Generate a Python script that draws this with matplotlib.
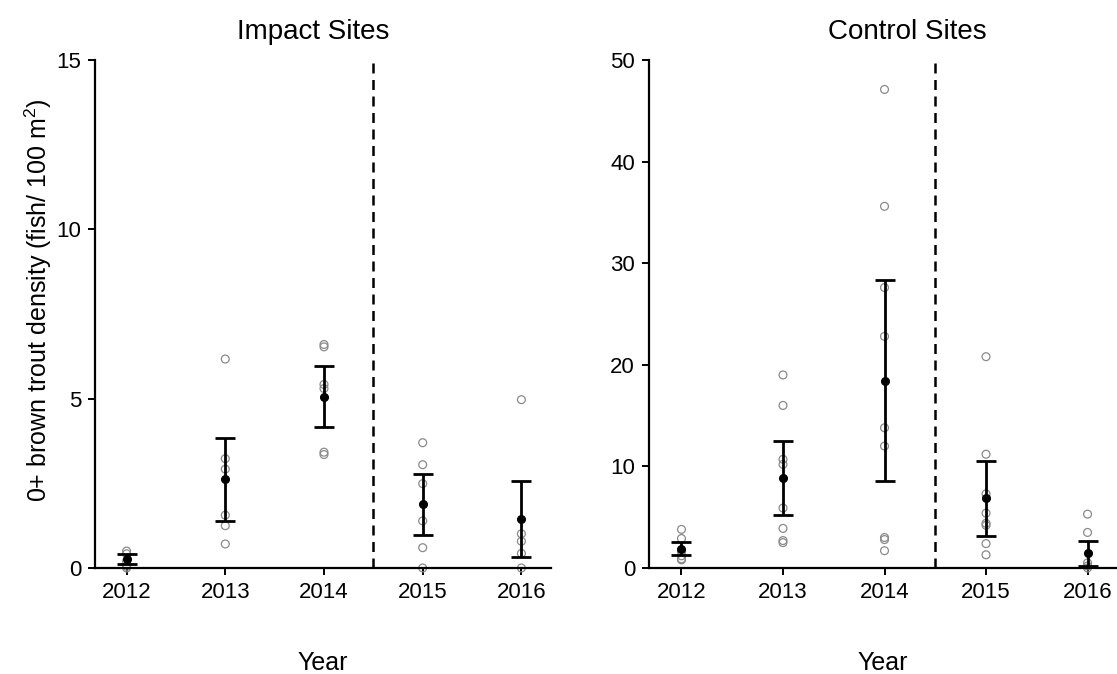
import matplotlib
matplotlib.use("Agg")
import matplotlib.pyplot as plt

plt.rcParams['font.family'] = ['Liberation Sans', 'DejaVu Sans']
plt.rcParams['mathtext.fontset'] = 'custom'
plt.rcParams['mathtext.rm'] = 'Liberation Sans'
plt.rcParams['mathtext.it'] = 'Liberation Sans'

years = [2012, 2013, 2014, 2015, 2016]

# Impact sites: raw site densities per year
impact_2012 = [0.5, 0.42, 0.2, 0.05, 0.0]
impact_2013 = [6.17, 3.23, 2.92, 1.56, 1.25, 0.71]
impact_2014 = [6.6, 6.53, 5.42, 5.3, 3.42, 3.35]
impact_2015 = [3.70, 3.05, 2.49, 1.39, 0.60, 0.0]
impact_2016 = [4.97, 1.01, 0.79, 0.43, 0.0]
impact_mean = [0.26, 2.64, 5.06, 1.88, 1.46]
impact_low = [0.11, 1.40, 4.17, 0.96, 0.32]
impact_high = [0.41, 3.85, 5.97, 2.77, 2.57]

# Control sites: raw site densities per year
control_2012 = [3.8, 2.9, 1.6, 1.2, 0.9, 0.8]
control_2013 = [19.0, 16.0, 10.7, 10.2, 5.9, 3.9, 2.7, 2.5]
control_2014 = [47.1, 35.6, 27.6, 22.8, 13.8, 12.0, 3.0, 2.8, 1.7]
control_2015 = [20.8, 11.2, 7.3, 5.4, 4.4, 4.2, 2.4, 1.3]
control_2016 = [5.3, 3.5, 0.5, 0.2, 0.0]
control_mean = [1.87, 8.89, 18.4, 6.89, 1.51]
control_low = [1.31, 5.22, 8.53, 3.18, 0.23]
control_high = [2.53, 12.5, 28.35, 10.56, 2.69]

impact_points = [impact_2012, impact_2013, impact_2014, impact_2015, impact_2016]
control_points = [control_2012, control_2013, control_2014, control_2015, control_2016]

fig = plt.figure(figsize=(11.17, 6.74), dpi=100)
W, H = 1117, 674
ax1 = fig.add_axes([95 / W, 1 - 568 / H, 456 / W, 508 / H])
ax2 = fig.add_axes([649 / W, 1 - 568 / H, 469 / W, 508 / H])


def draw(ax, pts, mean, low, high, ymax, yticks):
    for yr, vals in zip(years, pts):
        ax.scatter([yr] * len(vals), vals, s=32, facecolors='none',
                   edgecolors='#8a8a8a', linewidths=0.9, clip_on=False, zorder=2)
    yerr = [[m - l for m, l in zip(mean, low)], [h - m for m, h in zip(mean, high)]]
    ax.errorbar(years, mean, yerr=yerr, fmt='o', color='black', markersize=5.5,
                elinewidth=2, capsize=7, capthick=2, zorder=3, clip_on=False)
    ax.axvline(2014.5, color='black', linestyle=(0, (4, 2.6)), linewidth=1.8, zorder=1)
    ax.set_xlim(2011.68, 2016.30)
    ax.set_ylim(0, ymax)
    ax.set_xticks(years)
    ax.set_xticklabels([str(y) for y in years])
    ax.set_yticks(yticks)
    for s in ['top', 'right']:
        ax.spines[s].set_visible(False)
    for s in ['left', 'bottom']:
        ax.spines[s].set_linewidth(1.6)
        ax.spines[s].set_color('black')
    ax.tick_params(axis='both', direction='out', length=5, width=1.4,
                   labelsize=16, colors='black', pad=5)


draw(ax1, impact_points, impact_mean, impact_low, impact_high, 15, [0, 5, 10, 15])
draw(ax2, control_points, control_mean, control_low, control_high, 50, [0, 10, 20, 30, 40, 50])

fig.text(313 / W, 1 - 32 / H, 'Impact Sites', ha='center', va='center', fontsize=20)
fig.text(907 / W, 1 - 32 / H, 'Control Sites', ha='center', va='center', fontsize=20)
fig.text(323 / W, 1 - 663 / H, 'Year', ha='center', va='center', fontsize=18)
fig.text(883 / W, 1 - 663 / H, 'Year', ha='center', va='center', fontsize=18)
fig.text(38 / W, 1 - 300 / H, '0+ brown trout density (fish/ 100 m$^{2}$)',
         ha='center', va='center', rotation=90, fontsize=18)

fig.savefig('out.png', dpi=100, facecolor='white')
